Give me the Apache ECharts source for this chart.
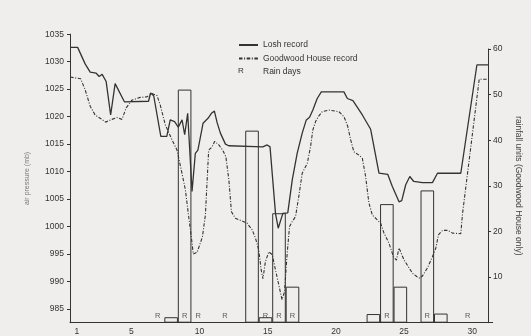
<!DOCTYPE html>
<html>
<head>
<meta charset="utf-8">
<script src="https://cdn.jsdelivr.net/npm/echarts@6/dist/echarts.min.js"></script>
<style>
  html, body { margin: 0; padding: 0; background: #efeeec; }
  #chart { width: 531px; height: 336px; }
</style>
</head>
<body>
<div id="chart"></div>
<script>
// day categories along the bottom
const days = Array.from({ length: 31 }, (_, i) => String(i + 1));
const dayLabels = ['1', '5', '10', '15', '20', '25', '30'];

// air pressure readings [day, mb]
const losh = [
  [0.51, 1032.6], [1.06, 1032.6], [1.61, 1029.6], [1.98, 1028.1], [2.42, 1027.9],
  [2.64, 1027.3], [2.86, 1027.7], [3.15, 1026.4], [3.48, 1020.3], [3.81, 1026.0],
  [4.49, 1022.7], [6.26, 1022.8], [6.41, 1024.3], [6.64, 1023.8], [7.16, 1016.4],
  [7.6, 1016.4], [7.85, 1019.4], [8.17, 1019.1], [8.44, 1018.1], [8.72, 1019.4],
  [8.91, 1016.7], [9.13, 1020.6], [9.45, 1006.4], [9.69, 1013.3], [9.88, 1013.9],
  [10.26, 1018.8], [10.62, 1019.7], [10.87, 1020.6], [11.09, 1021.0], [11.29, 1018.9],
  [11.53, 1017.0], [11.9, 1015.0], [12.14, 1014.7], [14.64, 1014.5], [14.96, 1014.85],
  [15.17, 1014.5], [15.57, 1002.4], [15.77, 999.7], [16.11, 1002.4], [16.47, 1002.5],
  [16.8, 1008.5], [17.16, 1013.3], [17.53, 1017.0], [17.83, 1019.4], [18.07, 1019.9],
  [18.31, 1021.2], [18.63, 1023.3], [18.93, 1024.5], [20.59, 1024.5], [20.84, 1023.3],
  [21.25, 1022.9], [21.94, 1020.3], [22.55, 1017.7], [23.16, 1009.7], [23.8, 1009.5],
  [24.14, 1007.3], [24.63, 1004.5], [24.83, 1004.7], [25.12, 1007.6], [25.42, 1009.1],
  [25.71, 1008.2], [26.35, 1008.0], [27.08, 1008.0], [27.45, 1009.7], [29.16, 1009.7],
  [30.34, 1029.4], [31.18, 1029.4]
];
const goodwood = [
  [0.51, 1027.2], [1.28, 1026.9], [1.61, 1024.9], [1.98, 1021.9], [2.34, 1020.3],
  [2.71, 1019.7], [3.12, 1019.0], [3.57, 1019.5], [3.94, 1019.85], [4.31, 1019.5],
  [4.62, 1021.6], [5.04, 1023.0], [5.65, 1023.5], [6.14, 1023.6], [6.51, 1024.2],
  [6.88, 1023.85], [7.12, 1022.1], [7.49, 1018.5], [7.98, 1015.8], [8.35, 1013.9],
  [8.71, 1009.7], [8.96, 1006.7], [9.2, 1001.9], [9.4, 998.1], [9.54, 995.0],
  [9.82, 995.3], [10.06, 997.0], [10.21, 998.1], [10.43, 1002.1], [10.67, 1013.9],
  [10.92, 1014.5], [11.11, 1015.5], [11.4, 1014.9], [11.7, 1013.9], [11.93, 1012.7],
  [12.15, 1008.5], [12.34, 1002.7], [12.63, 1001.5], [13.12, 1001.0], [13.49, 1000.6],
  [13.86, 999.4], [14.1, 997.9], [14.34, 995.8], [14.52, 992.1], [14.65, 990.5],
  [14.83, 993.6], [15.08, 995.4], [15.33, 994.9], [15.57, 992.1], [15.81, 989.4],
  [16.05, 986.7], [16.23, 988.1], [16.43, 995.2], [16.6, 1000.0], [16.8, 1000.9],
  [17.04, 1001.8], [17.28, 1005.5], [17.53, 1009.7], [17.9, 1011.5], [18.14, 1014.5],
  [18.31, 1017.6], [18.51, 1019.1], [18.71, 1020.0], [19.0, 1020.9], [19.49, 1021.2],
  [20.22, 1020.9], [20.59, 1020.0], [20.86, 1018.3], [21.08, 1015.8], [21.32, 1013.6],
  [21.69, 1013.0], [21.94, 1012.4], [22.18, 1009.1], [22.42, 1004.3], [22.67, 1002.1],
  [23.04, 1001.2], [23.28, 1000.6], [23.53, 998.8], [23.89, 997.0], [24.22, 994.5],
  [24.44, 993.9], [24.63, 996.1], [25.0, 993.9], [25.36, 992.5], [25.61, 991.5],
  [25.93, 990.9], [26.15, 990.6], [26.35, 991.0], [26.72, 992.5], [27.08, 994.5],
  [27.33, 996.1], [27.52, 998.5], [27.82, 999.3], [28.19, 999.3], [28.55, 998.8],
  [29.16, 998.7], [29.29, 1002.4], [30.51, 1026.8], [31.12, 1026.8]
];

// rainfall (Goodwood House only)
const rainfallDays = [8, 9, 14, 15, 16, 17, 23, 24, 25, 27, 28];
const rainfall = [1.2, 51.1, 42.1, 1.2, 24, 7.9, 1.9, 26, 7.9, 29, 2];
const rainDays = [7, 9, 10, 12, 15, 16, 17, 24, 27, 30];

const pressureTicks = [985, 990, 995, 1000, 1005, 1010, 1015, 1020, 1025, 1030, 1035];
const rainTicks = [0, 10, 20, 30, 40, 50, 60];
const rainLabels = [10, 20, 30, 40, 50, 60];

const ink = '#333333';
const font = '"Liberation Sans", Arial, sans-serif';

const chart = echarts.init(document.getElementById('chart'));

const option = {
  backgroundColor: '#efeeec',
  animation: false,
  textStyle: { fontFamily: font, color: ink },
  grid: [
    { left: 70, right: 38.3, top: 34.2, bottom: 13.3 },
    { left: 70, right: 38.3, top: 49, bottom: 13.3 }
  ],
  legend: {
    orient: 'vertical',
    left: 233,
    top: 35,
    itemWidth: 19,
    itemHeight: 8,
    itemGap: 3.5,
    itemStyle: { opacity: 0 },
    textStyle: { fontSize: 8.5, color: ink, lineHeight: 10, fontFamily: font },
    data: ['Losh record', 'Goodwood House record', { name: 'Rain days', icon: 'rect' }]
  },
  graphic: [{
    type: 'text',
    left: 238,
    top: 67,
    style: { text: 'R', font: '8px ' + font, fill: ink }
  }],
  xAxis: [
    {
      type: 'category',
      gridIndex: 0,
      data: days,
      boundaryGap: true,
      axisLine: { lineStyle: { color: ink, width: 1 } },
      axisTick: { interval: 0, length: 3, lineStyle: { color: ink } },
      axisLabel: {
        interval: (i, v) => dayLabels.includes(v),
        fontSize: 8.5, color: ink, margin: 4
      },
      splitLine: { show: false }
    },
    { type: 'value', gridIndex: 0, min: 0.5, max: 31.5, show: false },
    { type: 'value', gridIndex: 1, min: 0.5, max: 31.5, show: false }
  ],
  yAxis: [
    {
      type: 'value',
      gridIndex: 0,
      min: 982.5,
      max: 1035,
      name: 'air pressure (mb)',
      nameLocation: 'middle',
      nameGap: 39,
      nameTextStyle: { fontSize: 7, color: '#777' },
      axisLine: { show: true, lineStyle: { color: ink } },
      axisTick: { show: true, length: 3, customValues: pressureTicks, lineStyle: { color: ink } },
      axisLabel: { customValues: pressureTicks, formatter: v => String(v), fontSize: 8.5, color: ink, margin: 6 },
      splitLine: { show: false }
    },
    {
      type: 'value',
      gridIndex: 1,
      position: 'right',
      min: 0,
      max: 60,
      interval: 10,
      name: 'rainfall units (Goodwood House only)',
      nameLocation: 'middle',
      nameRotate: -90,
      nameGap: 26,
      nameTextStyle: { fontSize: 8.5, color: '#444' },
      axisLine: { show: true, lineStyle: { color: ink } },
      axisTick: { show: true, length: 3, customValues: rainTicks, lineStyle: { color: ink } },
      axisLabel: { customValues: rainLabels, fontSize: 8.5, color: ink, margin: 5 },
      splitLine: { show: false }
    }
  ],
  series: [
    {
      name: 'Rainfall',
      type: 'bar',
      xAxisIndex: 2,
      yAxisIndex: 1,
      barWidth: 13.6,
      data: rainfallDays.map((d, i) => [d, rainfall[i]]),
      itemStyle: { color: 'rgba(0,0,0,0)', borderColor: ink, borderWidth: 1 },
      z: 2
    },
    {
      name: 'Rain days',
      type: 'scatter',
      xAxisIndex: 2,
      yAxisIndex: 1,
      symbol: 'circle',
      symbolSize: 2,
      data: rainDays.map(d => [d, 1.4]),
      label: { show: true, position: 'inside', formatter: 'R', fontSize: 7.5, color: ink },
      itemStyle: { color: 'rgba(0,0,0,0)' },
      z: 3
    },
    {
      name: 'Losh record',
      type: 'line',
      xAxisIndex: 1,
      yAxisIndex: 0,
      symbol: 'none',
      data: losh,
      lineStyle: { color: ink, width: 1.3 },
      z: 4
    },
    {
      name: 'Goodwood House record',
      type: 'line',
      xAxisIndex: 1,
      yAxisIndex: 0,
      symbol: 'none',
      data: goodwood,
      lineStyle: { color: ink, width: 1.1, type: [3.5, 1.6, 1, 1.6] },
      z: 4
    }
  ]
};

chart.setOption(option);
</script>
</body>
</html>
